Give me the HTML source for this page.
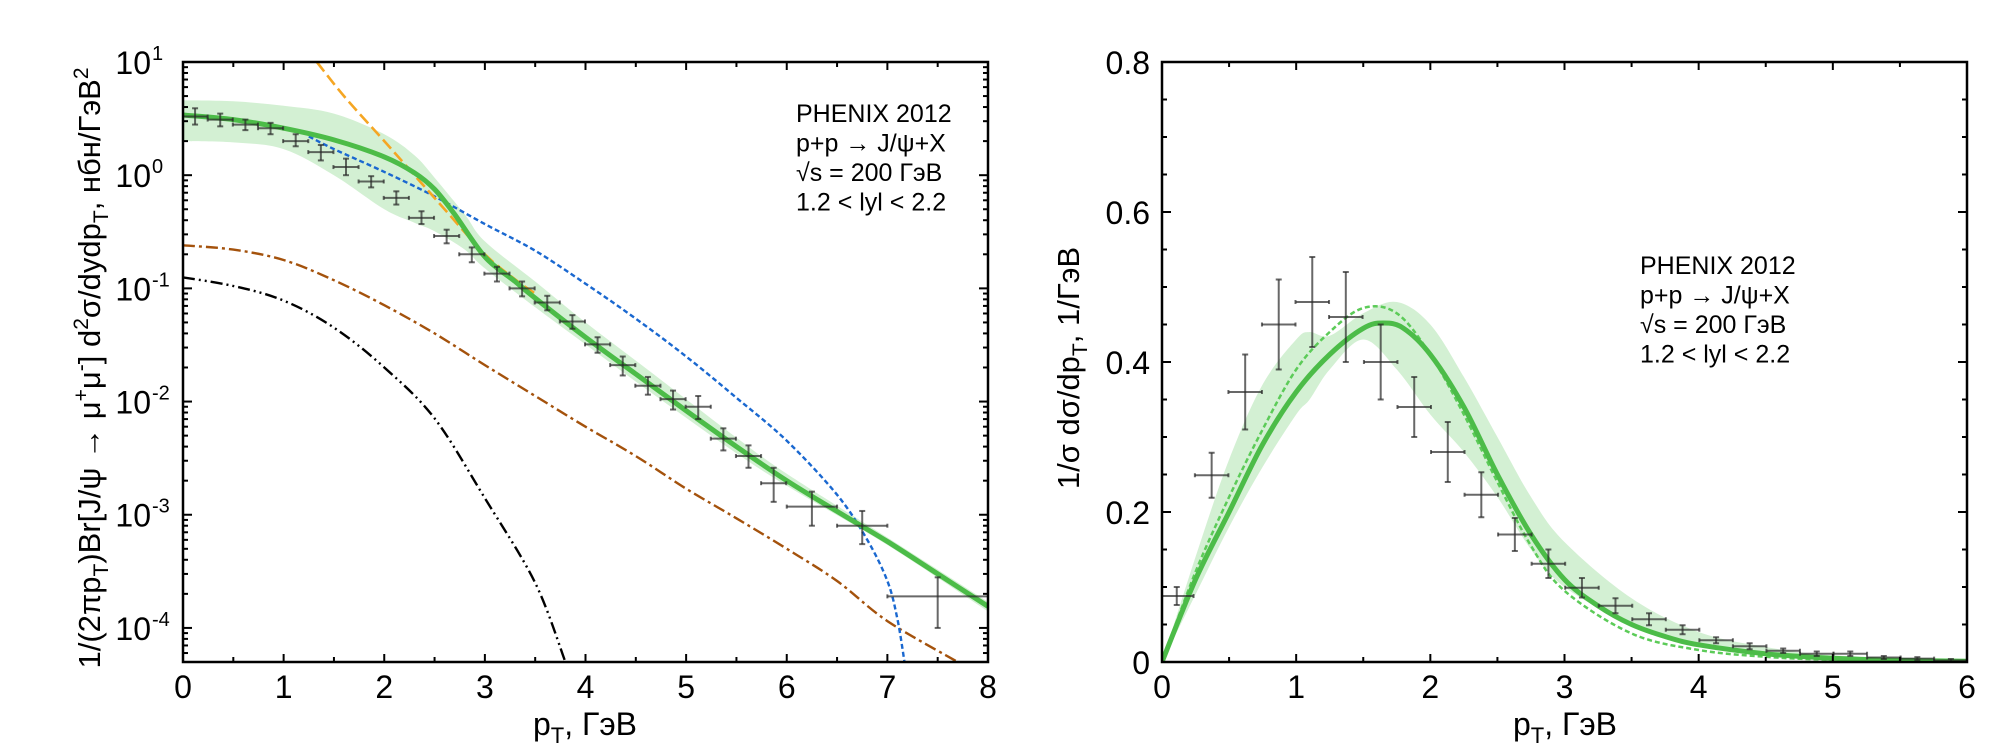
<!DOCTYPE html>
<html><head><meta charset="utf-8">
<style>
html,body{margin:0;padding:0;background:#fff;}
svg{display:block;font-family:"Liberation Sans","DejaVu Sans",sans-serif;}
</style></head>
<body>
<svg id="fig" width="2007" height="750" viewBox="0 0 2007 750" xmlns="http://www.w3.org/2000/svg">
  <g id="left"></g>
  <g id="right"></g>
</svg>
<script>
// ---------- LEFT PANEL DATA ----------
const lPtX = [0.12,0.37,0.62,0.87,1.12,1.37,1.62,1.87,2.12,2.37,2.62,2.87,3.12,3.37,3.62,3.87,4.12,4.37,4.62,4.87,5.12,5.37,5.62,5.87,6.25,6.75,7.5];
const lPtY = [3.3,3.1,2.8,2.6,2.0,1.6,1.18,0.88,0.63,0.42,0.29,0.2,0.135,0.1,0.075,0.051,0.032,0.021,0.0138,0.0105,0.009,0.0047,0.0033,0.0019,0.00118,0.0008,0.00019];
const lPtLo = [2.8,2.7,2.5,2.3,1.8,1.35,1.0,0.78,0.55,0.37,0.25,0.17,0.115,0.085,0.064,0.044,0.027,0.017,0.0115,0.0085,0.007,0.0037,0.0026,0.0013,0.0008,0.00055,0.0001];
const lPtHi = [3.9,3.5,3.1,2.9,2.3,1.85,1.4,0.98,0.72,0.48,0.33,0.23,0.155,0.115,0.086,0.058,0.037,0.025,0.0165,0.0125,0.0112,0.0058,0.0041,0.0026,0.0016,0.00108,0.00028];
const lPtXerr = [0.125,0.125,0.125,0.125,0.125,0.125,0.125,0.125,0.125,0.125,0.125,0.125,0.125,0.125,0.125,0.125,0.125,0.125,0.125,0.125,0.125,0.125,0.125,0.125,0.25,0.25,0.5];

const lGreenX = [0,0.5,1,1.5,2,2.3,2.5,2.7,3,3.3,3.5,4,4.5,5,5.5,6,6.5,7,7.5,8];
const lGreenY = [3.4,3.1,2.6,2.05,1.45,1.05,0.75,0.45,0.19,0.115,0.082,0.037,0.0175,0.0083,0.0040,0.0020,0.00107,0.00058,0.0003,0.000155];
const lBandX = [0,0.5,1,1.5,2,2.3,2.5,2.8,3,3.5,4,4.5,5,5.5,6,7,8];
const lBandHi = [4.6,4.5,4.1,3.5,2.3,1.5,0.95,0.45,0.26,0.115,0.05,0.023,0.0105,0.0048,0.0023,0.00063,0.00017];
const lBandLo = [2.0,1.95,1.7,1.0,0.5,0.38,0.32,0.22,0.15,0.068,0.032,0.015,0.0072,0.0035,0.0018,0.00054,0.00014];
const lOrangeX = [1.33,1.6,2,2.3,2.6,3,3.3,3.5];
const lOrangeY = [10,5,2.0,1.0,0.5,0.2,0.12,0.09];
const lBlueX = [1.25,1.5,2,2.5,3,3.5,4,4.5,5,5.5,6,6.5,6.8,7,7.1,7.17];
const lBlueY = [2.2,1.7,1.07,0.65,0.37,0.215,0.11,0.054,0.025,0.0108,0.0045,0.0015,0.0006,0.00026,0.00012,0.00005];
const lBrownX = [0,0.5,1,1.5,2,2.5,3,3.5,4,4.5,5,5.5,6,6.5,7,7.7];
const lBrownY = [0.24,0.22,0.178,0.118,0.071,0.04,0.021,0.0112,0.006,0.0033,0.0017,0.00093,0.0005,0.00026,0.000115,0.00005];
const lBlackX = [0,0.5,1,1.5,2,2.5,3,3.5,3.8];
const lBlackY = [0.125,0.105,0.078,0.045,0.02,0.0071,0.0014,0.00025,0.00005];
const lXTicks = ["0","1","2","3","4","5","6","7","8"];
const lYExp = ["1","0","-1","-2","-3","-4"];

// ---------- RIGHT PANEL DATA ----------
const rPtX = [0.11,0.37,0.62,0.87,1.12,1.37,1.63,1.88,2.13,2.38,2.63,2.88,3.13,3.38,3.63,3.88,4.13,4.38,4.63,4.88,5.13,5.38,5.63,5.88];
const rPtY = [0.088,0.249,0.36,0.45,0.48,0.46,0.40,0.34,0.28,0.223,0.17,0.131,0.099,0.075,0.057,0.043,0.029,0.021,0.015,0.011,0.011,0.006,0.0045,0.002];
const rPtErr = [0.012,0.03,0.05,0.06,0.06,0.06,0.05,0.04,0.04,0.03,0.022,0.019,0.013,0.01,0.008,0.006,0.004,0.004,0.003,0.003,0.003,0.002,0.002,0.002];
const rSolidX = [0,0.25,0.5,0.75,1,1.25,1.5,1.65,1.8,2,2.25,2.5,2.75,3,3.25,3.5,3.75,4,4.5,5,5.5,6];
const rSolidY = [0,0.11,0.2,0.29,0.36,0.41,0.445,0.452,0.445,0.41,0.34,0.25,0.17,0.11,0.075,0.05,0.034,0.023,0.011,0.005,0.0022,0.001];
const rDashX = [0,0.25,0.5,0.75,1,1.25,1.5,1.75,2,2.25,2.5,2.75,3,3.5,4,4.5,5,6];
const rDashY = [0,0.12,0.22,0.31,0.39,0.44,0.472,0.465,0.41,0.33,0.24,0.155,0.095,0.038,0.016,0.007,0.003,0.0005];
const rBandX = [0,0.25,0.5,0.75,1,1.1,1.25,1.5,1.75,2,2.25,2.5,2.75,3,3.5,4,4.5,5,6];
const rBandHi = [0,0.14,0.27,0.37,0.43,0.44,0.435,0.465,0.48,0.45,0.38,0.3,0.22,0.16,0.085,0.04,0.02,0.009,0.002];
const rBandLo = [0,0.09,0.18,0.26,0.33,0.35,0.39,0.43,0.39,0.33,0.28,0.22,0.15,0.1,0.05,0.022,0.01,0.004,0.0005];
const rXTicks = ["0","1","2","3","4","5","6"];
const rYTicks = ["0","0.2","0.4","0.6","0.8"];

// ---------- helpers ----------
const NS = "http://www.w3.org/2000/svg";
function mk(tag, attrs, parent){ const e=document.createElementNS(NS,tag); for(const k in attrs) e.setAttribute(k,attrs[k]); parent.appendChild(e); return e; }

const L = {x0:183, x1:988, y0:62, y1:662};
const R = {x0:1162, x1:1967, y0:62, y1:662};
const lx = v => L.x0 + (v/8)*(L.x1-L.x0);
const ly = v => L.y0 + (1 - Math.log10(v)) / (1 - Math.log10(5e-5)) * (L.y1-L.y0);
const rx = v => R.x0 + (v/6)*(R.x1-R.x0);
const ry = v => R.y1 - (v/0.8)*(R.y1-R.y0);

function smoothD(xs, ys, fx, fy){
  const p = xs.map((x,i)=>[fx(x), fy(ys[i])]);
  let d = "M"+p[0][0].toFixed(1)+","+p[0][1].toFixed(1);
  for(let i=0;i<p.length-1;i++){
    const p0=p[Math.max(0,i-1)], p1=p[i], p2=p[i+1], p3=p[Math.min(p.length-1,i+2)];
    const c1=[p1[0]+(p2[0]-p0[0])/6, p1[1]+(p2[1]-p0[1])/6];
    const c2=[p2[0]-(p3[0]-p1[0])/6, p2[1]-(p3[1]-p1[1])/6];
    d += "C"+c1[0].toFixed(1)+","+c1[1].toFixed(1)+" "+c2[0].toFixed(1)+","+c2[1].toFixed(1)+" "+p2[0].toFixed(1)+","+p2[1].toFixed(1);
  }
  return d;
}
function bandD(xs, hi, lo, fx, fy){
  const up = smoothD(xs, hi, fx, fy);
  const dn = smoothD(xs.slice().reverse(), lo.slice().reverse(), fx, fy).replace(/^M/,"L");
  return up + dn + "Z";
}
function errbar(parent, cx, cy, x1, x2, y1, y2){
  const g = mk("g",{stroke:"rgba(40,40,40,0.7)","stroke-width":2},parent);
  mk("line",{x1:x1,y1:cy,x2:x2,y2:cy},g);
  mk("line",{x1:cx,y1:y1,x2:cx,y2:y2},g);
  mk("line",{x1:cx-3,y1:y1,x2:cx+3,y2:y1},g);
  mk("line",{x1:cx-3,y1:y2,x2:cx+3,y2:y2},g);
  mk("line",{x1:x1,y1:cy-2,x2:x1,y2:cy+2},g);
  mk("line",{x1:x2,y1:cy-2,x2:x2,y2:cy+2},g);
  return g;
}

// ---------- LEFT ----------
const gl = document.getElementById("left");
const clipL = mk("clipPath",{id:"clipL"},gl); mk("rect",{x:L.x0,y:L.y0,width:L.x1-L.x0,height:L.y1-L.y0},clipL);
const pl = mk("g",{"clip-path":"url(#clipL)"},gl);



let e;
e = mk("path",{d:bandD(lBandX,lBandHi,lBandLo,lx,ly),fill:"#d3f0d3",stroke:"none"},pl);


e = mk("path",{d:smoothD(lBlackX,lBlackY,lx,ly),fill:"none",stroke:"#000","stroke-width":2.4,"stroke-dasharray":"12,4,2,4,2,4"},pl);


e = mk("path",{d:smoothD(lBrownX,lBrownY,lx,ly),fill:"none",stroke:"#a4520c","stroke-width":2.4,"stroke-dasharray":"12,4,3,4"},pl);


e = mk("path",{d:smoothD(lBlueX,lBlueY,lx,ly),fill:"none",stroke:"#1a68d0","stroke-width":2.4,"stroke-dasharray":"5,3"},pl);


e = mk("path",{d:smoothD(lOrangeX,lOrangeY,lx,ly),fill:"none",stroke:"#f5a623","stroke-width":2.6,"stroke-dasharray":"12,5"},pl);


e = mk("path",{d:smoothD(lGreenX,lGreenY,lx,ly),fill:"none",stroke:"#4cbc48","stroke-width":5},pl);


lPtX.forEach((x,i)=>{
  const g = errbar(pl, lx(x), ly(lPtY[i]), lx(x-lPtXerr[i]), lx(x+lPtXerr[i]), ly(lPtHi[i]), ly(lPtLo[i]));
  
  
});

e = mk("rect",{x:L.x0,y:L.y0,width:L.x1-L.x0,height:L.y1-L.y0,fill:"none",stroke:"#000","stroke-width":2.5},gl);


const tl = mk("g",{stroke:"#000","stroke-width":2},gl);
for(let v=0; v<=8.001; v+=0.5){
  const len = (Math.abs(v-Math.round(v))<1e-6)?8:5;
  mk("line",{x1:lx(v),y1:L.y1,x2:lx(v),y2:L.y1-len},tl);
  mk("line",{x1:lx(v),y1:L.y0,x2:lx(v),y2:L.y0+len},tl);
}
for(let d=-5; d<=0; d++){
  for(let m=1; m<=9; m++){
    const v = m*Math.pow(10,d);
    if(v<5e-5-1e-12 || v>10) continue;
    const len = m===1?9:5;
    mk("line",{x1:L.x0,y1:ly(v),x2:L.x0+len,y2:ly(v)},tl);
    mk("line",{x1:L.x1,y1:ly(v),x2:L.x1-len,y2:ly(v)},tl);
  }
}
lXTicks.forEach(t=>{
  e = mk("text",{x:lx(+t),y:698,"font-size":32,"text-anchor":"middle"},gl); e.textContent=t;
  
  
});
lYExp.forEach(t=>{
  const y = ly(Math.pow(10,+t));
  e = mk("text",{x:151,y:y+12,"font-size":32,"text-anchor":"end"},gl); e.textContent="10";
  
  
  e = mk("text",{x:152,y:y-2,"font-size":20,"text-anchor":"start"},gl); e.textContent=t;
  
  
});
e = mk("text",{x:585,y:735,"font-size":32,"text-anchor":"middle"},gl);
e.innerHTML = 'p<tspan font-size="22" dy="8">T</tspan><tspan dy="-8">, ГэВ</tspan>';


e = mk("text",{x:0,y:0,"font-size":31,"text-anchor":"middle",transform:"translate(100,368) rotate(-90)"},gl);
e.innerHTML = '1/(2πp<tspan font-size="21" dy="8">T</tspan><tspan dy="-8">)Br[J/ψ → μ</tspan><tspan font-size="21" dy="-12">+</tspan><tspan dy="12">μ</tspan><tspan font-size="21" dy="-12">-</tspan><tspan dy="12">] d</tspan><tspan font-size="21" dy="-12">2</tspan><tspan dy="12">σ/dydp</tspan><tspan font-size="21" dy="8">T</tspan><tspan dy="-8">, нбн/ГэВ</tspan><tspan font-size="21" dy="-12">2</tspan>';


const legL = ["PHENIX 2012","p+p → J/ψ+X","√s = 200 ГэВ","1.2 < lyl < 2.2"];
legL.forEach((t,i)=>{
  e = mk("text",{x:796,y:122+i*29.5,"font-size":25},gl); e.textContent=t;
  
  
});

// ---------- RIGHT ----------
const gr = document.getElementById("right");
const clipR = mk("clipPath",{id:"clipR"},gr); mk("rect",{x:R.x0,y:R.y0,width:R.x1-R.x0,height:R.y1-R.y0},clipR);
const pr = mk("g",{"clip-path":"url(#clipR)"},gr);


e = mk("path",{d:bandD(rBandX,rBandHi,rBandLo,rx,ry),fill:"#d3f0d3",stroke:"none"},pr);


e = mk("path",{d:smoothD(rDashX,rDashY,rx,ry),fill:"none",stroke:"#5ccb58","stroke-width":2.5,"stroke-dasharray":"5,3"},pr);


e = mk("path",{d:smoothD(rSolidX,rSolidY,rx,ry),fill:"none",stroke:"#4cbc48","stroke-width":5},pr);


rPtX.forEach((x,i)=>{
  const g = errbar(pr, rx(x), ry(rPtY[i]), rx(x-0.125), rx(x+0.125), ry(rPtY[i]+rPtErr[i]), ry(rPtY[i]-rPtErr[i]));
  
  
});
e = mk("rect",{x:R.x0,y:R.y0,width:R.x1-R.x0,height:R.y1-R.y0,fill:"none",stroke:"#000","stroke-width":2.5},gr);


const tr = mk("g",{stroke:"#000","stroke-width":2},gr);
for(let v=0; v<=6.001; v+=0.5){
  const len = (Math.abs(v-Math.round(v))<1e-6)?8:5;
  mk("line",{x1:rx(v),y1:R.y1,x2:rx(v),y2:R.y1-len},tr);
  mk("line",{x1:rx(v),y1:R.y0,x2:rx(v),y2:R.y0+len},tr);
}
for(let k=0; k<=16; k++){
  const v = k*0.05; const len = (k%4===0)?9:5;
  mk("line",{x1:R.x0,y1:ry(v),x2:R.x0+len,y2:ry(v)},tr);
  mk("line",{x1:R.x1,y1:ry(v),x2:R.x1-len,y2:ry(v)},tr);
}
rXTicks.forEach(t=>{
  e = mk("text",{x:rx(+t),y:698,"font-size":32,"text-anchor":"middle"},gr); e.textContent=t;
  
  
});
rYTicks.forEach(t=>{
  e = mk("text",{x:1150,y:ry(+t)+12,"font-size":32,"text-anchor":"end"},gr); e.textContent=t;
  
  
});
e = mk("text",{x:1565,y:735,"font-size":32,"text-anchor":"middle"},gr);
e.innerHTML = 'p<tspan font-size="22" dy="8">T</tspan><tspan dy="-8">, ГэВ</tspan>';


e = mk("text",{x:0,y:0,"font-size":31,"text-anchor":"middle",transform:"translate(1079,368) rotate(-90)"},gr);
e.innerHTML = '1/σ dσ/dp<tspan font-size="21" dy="8">T</tspan><tspan dy="-8">,  1/ГэВ</tspan>';


legL.forEach((t,i)=>{
  e = mk("text",{x:1640,y:274+i*29.5,"font-size":25},gr); e.textContent=t;
  
  
});
</script>
</body></html>
